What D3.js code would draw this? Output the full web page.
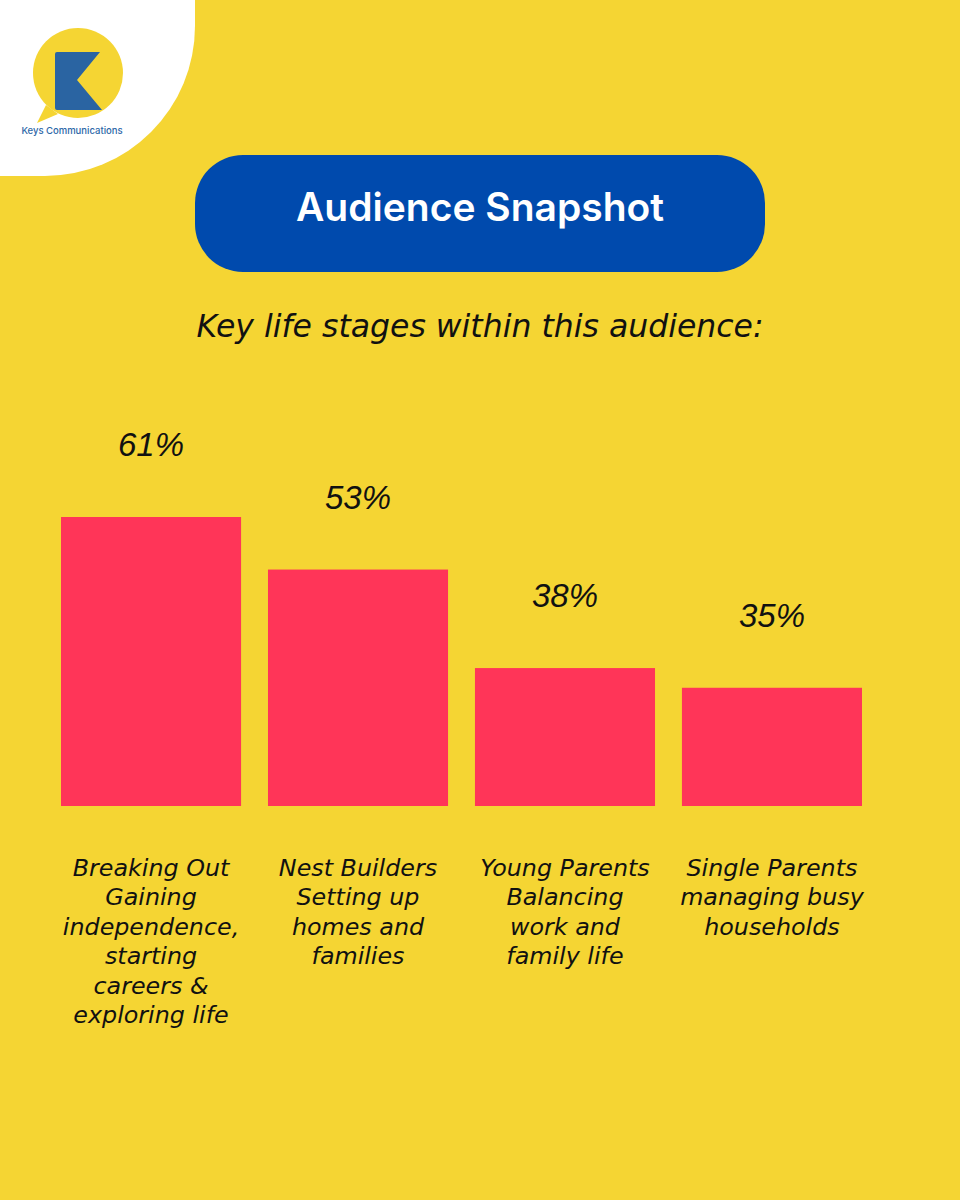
<!DOCTYPE html>
<html>
<head>
<meta charset="utf-8">
<script src="https://cdn.jsdelivr.net/npm/d3@7"></script>
<style>
  html, body { margin: 0; padding: 0; background: #F5D533; }
  svg { display: block; }
</style>
</head>
<body>
<div id="chart"></div>
<script>
// Chart data
const categories = ["Breaking Out", "Nest Builders", "Young Parents", "Single Parents"];
const values = [61, 53, 38, 35];
const valueLabels = ["61%", "53%", "38%", "35%"];
const categoryLines = [
    ["Breaking Out", "Gaining", "independence,", "starting", "careers &", "exploring life"],
    ["Nest Builders", "Setting up", "homes and", "families"],
    ["Young Parents", "Balancing", "work and", "family life"],
    ["Single Parents", "managing busy", "households"]
];
const titleText = "Audience Snapshot";
const subtitleText = "Key life stages within this audience:";

const width = 960, height = 1200;
const yellow = "#F5D533";
const blue = "#004AAD";
const red = "#FF3558";
const italicFont = "'DejaVu Sans', 'Liberation Sans', sans-serif";
const numberFont = "'Liberation Sans', Arial, sans-serif";

var svg = d3.select("#chart").append("svg")
    .attr("width", width)
    .attr("height", height);

// Background
svg.append("rect")
    .attr("width", width)
    .attr("height", height)
    .attr("fill", yellow);

// White corner behind the logo
svg.append("path")
    .attr("d", "M0,0 H195 V26 A150,150 0 0 1 45,176 H0 Z")
    .attr("fill", "#ffffff");

// Logo: speech bubble with K
var logo = svg.append("g");
logo.append("path")
    .attr("d", "M46,105 L37,123 L58,114 Z")
    .attr("fill", yellow);
logo.append("circle")
    .attr("cx", 78)
    .attr("cy", 73)
    .attr("r", 45)
    .attr("fill", yellow);
logo.append("path")
    .attr("d", "M57,52 H100 L77,80 L102,110 H57 Q55,110 55,108 V54 Q55,52 57,52 Z")
    .attr("fill", "#2A64A2");
logo.append("text")
    .attr("x", 72)
    .attr("y", 134)
    .attr("text-anchor", "middle")
    .attr("font-family", "Inter, 'Noto Sans', sans-serif")
    .attr("font-size", 9.5)
    .attr("font-weight", 500)
    .attr("fill", "#2D68A8")
    .text("Keys Communications");

// Title pill
svg.append("rect")
    .attr("x", 195)
    .attr("y", 155)
    .attr("width", 570)
    .attr("height", 117)
    .attr("rx", 48)
    .attr("fill", blue);

svg.append("text")
    .attr("x", 480)
    .attr("y", 221)
    .attr("text-anchor", "middle")
    .attr("font-family", "Inter, 'Noto Sans', sans-serif")
    .attr("font-size", 39)
    .attr("font-weight", 600)
    .attr("fill", "#ffffff")
    .text(titleText);

// Subtitle
svg.append("text")
    .attr("x", 480)
    .attr("y", 337)
    .attr("text-anchor", "middle")
    .attr("font-family", italicFont)
    .attr("font-style", "italic")
    .attr("font-size", 31.5)
    .attr("fill", "#111111")
    .text(subtitleText);

// Scales
var xScale = d3.scaleBand()
    .domain(categories)
    .range([61, 862])
    .paddingInner(0.13)
    .paddingOuter(0);

var yScale = d3.scaleLinear()
    .domain([17, 61])
    .range([806, 517]);

// Bars
svg.selectAll(".bar")
    .data(values)
    .enter().append("rect")
    .attr("class", "bar")
    .attr("x", (d, i) => xScale(categories[i]))
    .attr("y", d => yScale(d))
    .attr("width", xScale.bandwidth())
    .attr("height", d => yScale.range()[0] - yScale(d))
    .attr("fill", red);

// Value labels above the bars
svg.selectAll(".valueLabel")
    .data(values)
    .enter().append("text")
    .attr("class", "valueLabel")
    .attr("x", (d, i) => xScale(categories[i]) + xScale.bandwidth() / 2)
    .attr("y", d => yScale(d) - 61)
    .attr("text-anchor", "middle")
    .attr("font-family", numberFont)
    .attr("font-style", "italic")
    .attr("font-size", 33)
    .attr("fill", "#111111")
    .text((d, i) => valueLabels[i]);

// Category labels under the bars
var catGroups = svg.selectAll(".catLabel")
    .data(categoryLines)
    .enter().append("text")
    .attr("class", "catLabel")
    .attr("text-anchor", "middle")
    .attr("font-family", italicFont)
    .attr("font-style", "italic")
    .attr("font-size", 23.8)
    .attr("fill", "#111111");

catGroups.selectAll("tspan")
    .data((d, i) => d.map(line => ({ line: line, cat: categories[i] })))
    .enter().append("tspan")
    .attr("x", d => xScale(d.cat) + xScale.bandwidth() / 2)
    .attr("y", (d, j) => 876 + j * 29.4)
    .text(d => d.line);
</script>
</body>
</html>
